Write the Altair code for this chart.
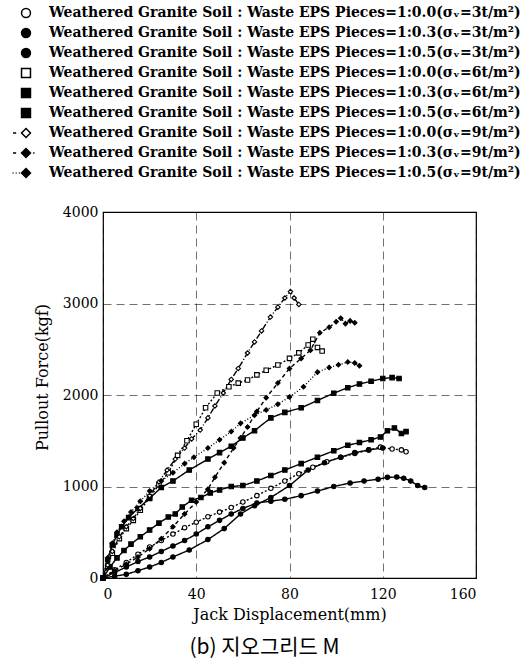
import altair as alt
import pandas as pd

labels = [
    "Weathered Granite Soil : Waste EPS Pieces=1:0.0(σᵥ=3t/m²)",
    "Weathered Granite Soil : Waste EPS Pieces=1:0.3(σᵥ=3t/m²)",
    "Weathered Granite Soil : Waste EPS Pieces=1:0.5(σᵥ=3t/m²)",
    "Weathered Granite Soil : Waste EPS Pieces=1:0.0(σᵥ=6t/m²)",
    "Weathered Granite Soil : Waste EPS Pieces=1:0.3(σᵥ=6t/m²)",
    "Weathered Granite Soil : Waste EPS Pieces=1:0.5(σᵥ=6t/m²)",
    "Weathered Granite Soil : Waste EPS Pieces=1:0.0(σᵥ=9t/m²)",
    "Weathered Granite Soil : Waste EPS Pieces=1:0.3(σᵥ=9t/m²)",
    "Weathered Granite Soil : Waste EPS Pieces=1:0.5(σᵥ=9t/m²)",
]

# 3t/m2, 1:0.0
x_3t_00 = [0, 5, 10, 15, 20, 25, 30, 35, 40, 45, 50, 55, 60, 66, 72, 78, 84, 90, 96, 102, 108, 114, 119, 124, 128, 130]
f_3t_00 = [0, 90, 170, 260, 339, 410, 480, 550, 610, 670, 720, 770, 830, 900, 980, 1060, 1140, 1210, 1270, 1320, 1360, 1400, 1430, 1410, 1400, 1380]
# 3t/m2, 1:0.3
x_3t_03 = [0, 5, 10, 15, 20, 25, 30, 35, 40, 45, 50, 55, 60, 66, 72, 78, 85, 92, 99, 106, 112, 118, 122, 126, 129, 132, 135, 138]
f_3t_03 = [0, 60, 120, 180, 230, 290, 350, 410, 480, 560, 630, 700, 760, 820, 840, 860, 900, 950, 1000, 1038, 1060, 1080, 1100, 1104, 1090, 1060, 1010, 990]
# 3t/m2, 1:0.5
x_3t_05 = [0, 5, 10, 15, 20, 25, 30, 37, 45, 52, 59, 65, 72, 80, 88, 95, 102, 108, 114, 120]
f_3t_05 = [0, 20, 40, 80, 120, 170, 230, 306, 420, 540, 700, 790, 880, 1010, 1180, 1260, 1320, 1370, 1400, 1420]
# 6t/m2, 1:0.0
x_6t_00 = [0, 2, 4, 7, 10, 13, 16, 20, 24, 28, 32, 36, 40, 44, 49, 54, 58, 62, 66, 70, 75, 80, 84, 88, 90, 92, 94]
f_6t_00 = [0, 130, 270, 430, 540, 630, 740, 880, 1020, 1150, 1340, 1500, 1680, 1860, 2022, 2090, 2130, 2164, 2220, 2270, 2328, 2400, 2460, 2546, 2610, 2520, 2480]
# 6t/m2, 1:0.3
x_6t_03 = [0, 2, 4, 6, 8, 11, 15, 20, 25, 30, 37, 45, 50, 55, 60, 65, 72, 78, 85, 92, 99, 105, 110, 115, 120, 124, 127]
f_6t_03 = [0, 200, 360, 470, 560, 660, 760, 870, 990, 1060, 1180, 1300, 1370, 1440, 1530, 1610, 1750, 1810, 1860, 1940, 2020, 2080, 2120, 2150, 2180, 2190, 2180]
# 6t/m2, 1:0.5
x_6t_05 = [0, 3, 6, 9, 12, 16, 20, 24, 28, 31, 34, 38, 42, 46, 50, 55, 60, 66, 72, 78, 85, 92, 99, 105, 110, 115, 119, 122, 125, 128, 130]
f_6t_05 = [0, 120, 220, 300, 370, 450, 525, 600, 667, 700, 776, 850, 880, 930, 962, 1000, 1010, 1060, 1120, 1180, 1250, 1320, 1390, 1450, 1480, 1510, 1541, 1610, 1640, 1580, 1600]
# 9t/m2, 1:0.0
x_9t_00 = [0, 2, 4, 7, 10, 13, 16, 20, 24, 27.5, 31, 35, 38, 41.7, 45, 48, 51.6, 55, 58, 62, 65, 68, 71.8, 75, 78, 80.4, 82, 84]
f_9t_00 = [0, 140, 290, 450, 560, 650, 760, 900, 1050, 1180, 1300, 1420, 1520, 1617, 1750, 1880, 2022, 2170, 2290, 2459, 2580, 2700, 2852, 2960, 3060, 3130, 3060, 2990]
# 9t/m2, 1:0.3
x_9t_03 = [0, 5, 10, 15, 20, 25, 30, 35, 40, 45, 48, 52, 56, 59, 62, 66, 70, 75, 80, 85, 89, 93, 97, 100, 102, 104, 106, 108]
f_9t_03 = [0, 80, 150, 230, 320, 430, 560, 700, 830, 970, 1100, 1260, 1420, 1530, 1650, 1820, 1970, 2130, 2290, 2400, 2490, 2680, 2740, 2800, 2840, 2780, 2810, 2790]
# 9t/m2, 1:0.5
x_9t_05 = [0, 2, 4, 6, 9, 12, 16, 20, 25, 30, 35, 39, 45, 50, 55, 59, 65, 70, 75, 80, 86, 92, 97, 101, 105, 108, 110]
f_9t_05 = [0, 220, 380, 500, 620, 720, 840, 950, 1060, 1150, 1250, 1320, 1420, 1510, 1600, 1690, 1780, 1836, 1900, 1978, 2090, 2250, 2300, 2330, 2360, 2350, 2320]

xs = [x_3t_00, x_3t_03, x_3t_05, x_6t_00, x_6t_03, x_6t_05, x_9t_00, x_9t_03, x_9t_05]
fs = [f_3t_00, f_3t_03, f_3t_05, f_6t_00, f_6t_03, f_6t_05, f_9t_00, f_9t_03, f_9t_05]

rows = []
for lab, xx, ff in zip(labels, xs, fs):
    for i, (a, b) in enumerate(zip(xx, ff)):
        rows.append({"series": lab, "disp": a, "force": b, "idx": i})
df = pd.DataFrame(rows)

shapes_plot = ["circle", "circle", "circle", "square", "square", "square", "diamond", "diamond", "diamond"]
fills = ["white", "black", "black", "white", "black", "black", "white", "black", "black"]
fills_legend = ["transparent", "black", "black", "transparent", "black", "black", "transparent", "black", "black"]
dashes = [[2, 2], [1, 0], [1, 0], [2, 2], [1, 0], [1, 0], [6, 2, 1, 2], [4, 3], [1, 2]]
diamond = "M0,-1L1,0L0,1L-1,0Z"
shapes_legend = [
    "circle", "circle", "circle", "square", "square", "square",
    "M-2.9,0L-2.2,0" + diamond,
    "M-2.9,0L-2.2,0M1.6,0L1.9,0" + diamond,
    "M-3.0,0L-2.8,0M-2.3,0L-2.1,0M-1.6,0L-1.4,0" + diamond,
]

X = alt.X("disp:Q", scale=alt.Scale(domain=[0, 160], nice=False),
          axis=alt.Axis(values=[0, 40, 80, 120, 160], format="d", title="Jack Displacement(mm)"))
Y = alt.Y("force:Q", scale=alt.Scale(domain=[0, 4000], nice=False),
          axis=alt.Axis(values=[0, 1000, 2000, 3000, 4000], format="d", title="Pullout Force(kgf)", titleY=165))

base = alt.Chart(df)

lines = base.mark_line(color="black", strokeWidth=1.4).encode(
    x=X, y=Y, detail="series:N", order="idx:Q",
    strokeDash=alt.StrokeDash("series:N", scale=alt.Scale(domain=labels, range=dashes), legend=None),
)

points = base.mark_point(stroke="black", strokeWidth=1.1, size=20, opacity=1).encode(
    x=X, y=Y,
    shape=alt.Shape("series:N", scale=alt.Scale(domain=labels, range=shapes_plot), legend=None),
    fill=alt.Fill("series:N", scale=alt.Scale(domain=labels, range=fills), legend=None),
)

empty = base.transform_filter("datum.disp < 0")
LX, LY = -84, -206

# outline legend (hollow black symbols)
leg_outline = empty.mark_point(filled=False, color="black", strokeWidth=1.2, opacity=1).encode(
    x=X, y=Y,
    shape=alt.Shape("series:N", scale=alt.Scale(domain=labels, range=shapes_legend),
                    legend=alt.Legend(title=None, orient="none", legendX=LX, legendY=LY)),
)
# fill legend (solid symbols), labels hidden so they are not drawn twice
leg_fill = empty.mark_point(filled=True, opacity=1).encode(
    x=X, y=Y,
    shape=alt.Shape("series:N", scale=alt.Scale(domain=labels, range=shapes_legend),
                    legend=alt.Legend(title=None, orient="none", legendX=LX, legendY=LY, labelOpacity=0)),
    fill=alt.Fill("series:N", scale=alt.Scale(domain=labels, range=fills_legend),
                  legend=alt.Legend(title=None, orient="none", legendX=LX, legendY=LY, labelOpacity=0)),
)

chart = alt.layer(lines, points, leg_outline, leg_fill).resolve_scale(
    shape="independent", fill="independent"
).properties(
    width=373, height=366,
    autosize=alt.AutoSizeParams(type="none"),
    padding={"left": 103, "top": 212, "right": 55, "bottom": 85},
    title=alt.TitleParams("(b) 지오그리드 M", orient="bottom", anchor="middle", dx=-25,
                          font="Noto Sans CJK KR", fontSize=21, fontWeight="normal", offset=15, color="black"),
).configure_view(stroke="black", strokeWidth=1.2).configure_axis(
    domain=False, ticks=False,
    grid=True, gridColor="black", gridDash=[8, 5], gridWidth=0.7, gridOpacity=0.8,
    labelFont="DejaVu Serif", labelFontSize=14, labelColor="black",
    titleFont="DejaVu Serif", titleFontSize=16, titleFontWeight="normal", titleColor="black",
).configure_axisX(labelPadding=9, titlePadding=5).configure_axisY(labelPadding=5, titlePadding=12).configure_legend(
    labelFont="DejaVu Serif", labelFontSize=14, labelFontWeight="bold", labelColor="black",
    symbolSize=80, rowPadding=4, labelOffset=16, labelLimit=600,
)

chart.save("out.html", embed_options={"renderer": "svg", "actions": False})
